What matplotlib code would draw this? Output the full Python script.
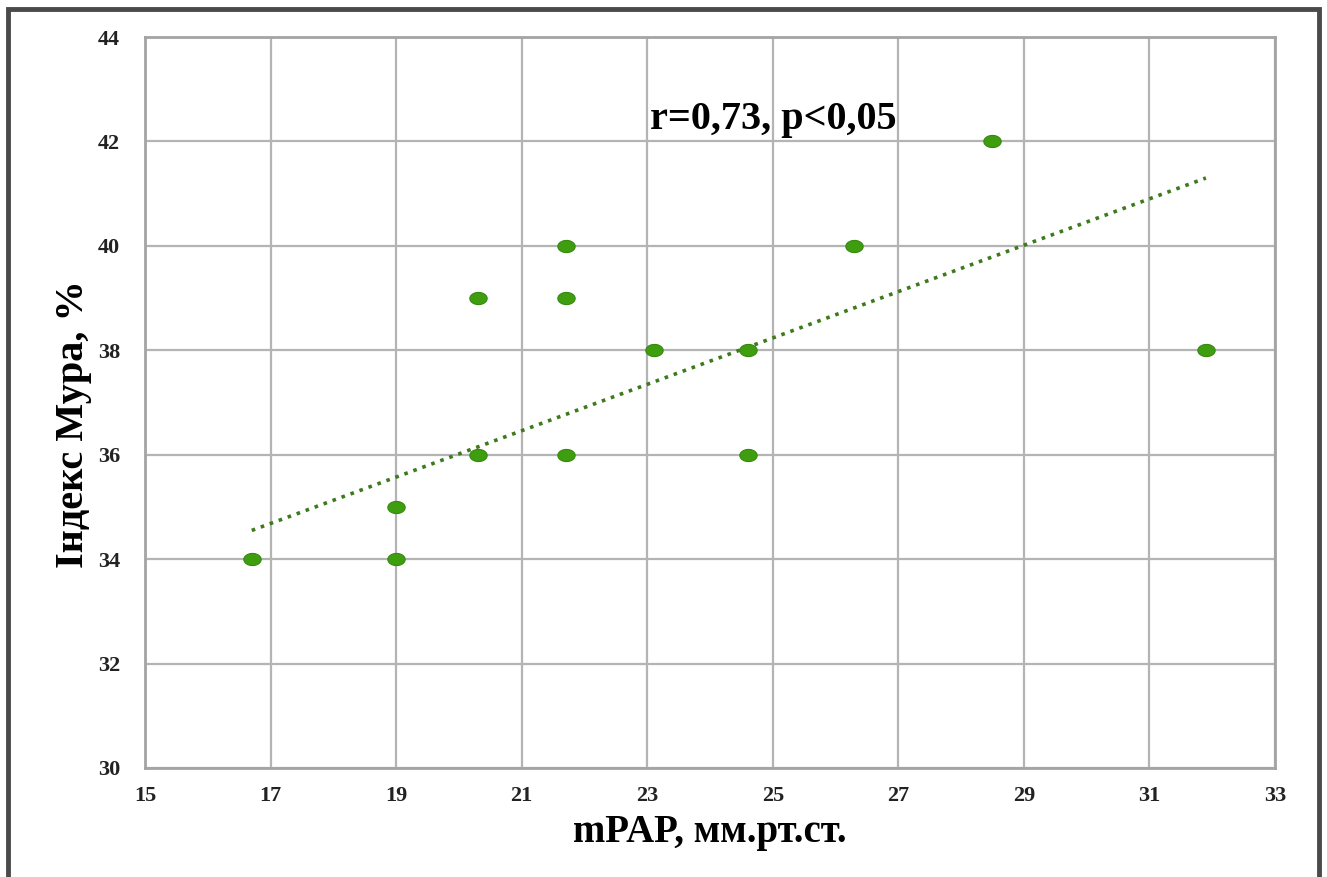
import numpy as np
import matplotlib.pyplot as plt
from matplotlib.patches import Rectangle
from matplotlib.path import Path

# mPAP (x) vs Moore index (y)
mpap = [16.7, 19.0, 19.0, 20.3, 20.3, 21.7, 21.7, 21.7, 23.1, 24.6, 24.6, 26.3, 28.5, 31.9]
moore = [34, 35, 34, 39, 36, 40, 39, 36, 38, 38, 36, 40, 42, 38]

# trend line as drawn in the figure
trend_x = [16.7, 31.9]
trend_y = [34.55, 41.3]

x_ticks = [15, 17, 19, 21, 23, 25, 27, 29, 31, 33]
y_ticks = [30, 32, 34, 36, 38, 40, 42, 44]

serif = ['Liberation Serif', 'DejaVu Serif']

# slightly flattened round marker, like the original
t = np.linspace(0, 2 * np.pi, 40)
ellipse = Path(np.column_stack([np.cos(t), 0.7 * np.sin(t)]), closed=True)

fig = plt.figure(figsize=(13.27, 8.77), dpi=100)
ax = fig.add_axes([0.1093, 0.1243, 0.8515, 0.8335])

ax.plot(trend_x, trend_y, linestyle=':', color='#3d7a1c', linewidth=2.6, zorder=3)
ax.plot(mpap, moore, linestyle='none', marker=ellipse, markersize=12.5,
        markerfacecolor='#3f9e10', markeredgecolor='#358a0c', markeredgewidth=0.8, zorder=4)

ax.set_xlim(15, 33)
ax.set_ylim(30, 44)
ax.set_xticks(x_ticks)
ax.set_yticks(y_ticks)
ax.grid(True, color='#b4b4b4', linewidth=1.6)
ax.set_axisbelow(True)
for sp in ax.spines.values():
    sp.set_color('#a4a4a4')
    sp.set_linewidth(2)
ax.tick_params(length=0, pad=13)
ax.tick_params(axis='y', pad=18)
for lab in ax.get_xticklabels() + ax.get_yticklabels():
    lab.set_family(serif)
    lab.set_fontweight('bold')
    lab.set_fontsize(16)
    lab.set_color('#222222')

ax.set_xlabel('mPAP, мм.рт.ст.', family=serif, fontweight='bold', fontsize=28, labelpad=6)
ax.set_ylabel('Індекс Мура, %', family=serif, fontweight='bold', fontsize=29)
ax.yaxis.set_label_coords(-0.047, 0.47)

ax.text(23.05, 42.07, 'r=0,73, p<0,05', family=serif, fontweight='bold', fontsize=29,
        ha='left', va='bottom', zorder=5)

# dark frame around the picture
fig.patches.append(Rectangle((8 / 1327, -0.1), 1311 / 1327, 1.1 - 9 / 877,
                             transform=fig.transFigure, fill=False,
                             edgecolor='#4a4a4a', linewidth=3.5))

fig.savefig('out.png', dpi=100)
